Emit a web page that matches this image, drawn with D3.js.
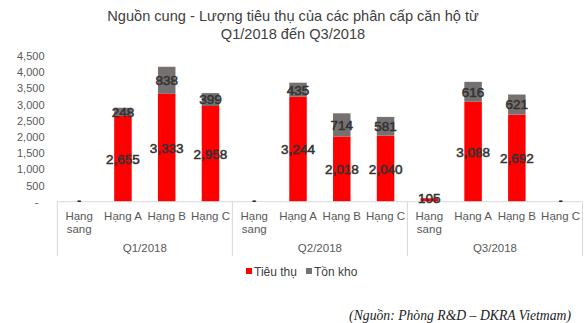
<!DOCTYPE html>
<html><head><meta charset="utf-8">
<script src="https://cdn.jsdelivr.net/npm/d3@7"></script>
<style>body{margin:0;background:#fff}svg{display:block;font-family:"Liberation Sans",Arial,sans-serif}</style>
</head><body><svg id="c" width="586" height="323"></svg>
<script>
const quarters = ["Q1/2018", "Q2/2018", "Q3/2018"];
const grades = ["Hạng sang", "Hạng A", "Hạng B", "Hạng C"];
const soldValues = [0, 2655, 3333, 2958, 0, 3244, 2018, 2040, 105, 3088, 2692, 0];
const stockValues = [0, 248, 838, 399, 0, 435, 714, 581, 0, 616, 621, 0];
const yTicks = [0, 500, 1000, 1500, 2000, 2500, 3000, 3500, 4000, 4500];
const seriesNames = ["Tiêu thụ", "Tồn kho"];
const colors = ["#ff0000", "#767171"];

(function () {
const svg = d3.select("#c");
const pLeft = 57.3, pRight = 582.5, pTop = 56.1, pBase = 201.7;
const keys = [];
quarters.forEach((q, qi) => grades.forEach((g, gi) => keys.push(qi + "|" + gi)));
const data = keys.map((k, i) => ({key: k, q: +k.split("|")[0], g: +k.split("|")[1], sold: soldValues[i], stock: stockValues[i]}));

const x = d3.scaleBand().domain(keys).range([pLeft, pRight]).paddingInner(0.6).paddingOuter(0.3);
const y = d3.scaleLinear().domain([0, 4500]).range([pBase, pTop]);
const qx = d3.scaleBand().domain(quarters).range([pLeft, pRight]);

// title
svg.append("text").attr("x", 293).attr("y", 21).attr("text-anchor", "middle").attr("fill", "#404040").attr("font-size", 14.6)
  .text("Nguồn cung - Lượng tiêu thụ của các phân cấp căn hộ từ");
svg.append("text").attr("x", 293).attr("y", 38.5).attr("text-anchor", "middle").attr("fill", "#404040").attr("font-size", 14.6)
  .text("Q1/2018 đến Q3/2018");

// y axis labels
const yAxis = d3.axisLeft(y).tickValues(yTicks).tickSize(0).tickPadding(0).tickFormat(d => d === 0 ? "-" : d3.format(",")(d));
const ya = svg.append("g").attr("transform", "translate(44.5,0)").call(yAxis);
ya.select(".domain").remove();
ya.selectAll("text").attr("fill", "#595959").attr("font-size", 11).attr("font-family", "Liberation Sans, Arial, sans-serif")
  .attr("dx", d => d === 0 ? -6 : 0);

// bars
const stack = d3.stack().keys(["sold", "stock"])(data);
stack.forEach((s, si) => {
  svg.append("g").selectAll("rect").data(s).join("rect")
    .attr("x", d => x(d.data.key)).attr("width", x.bandwidth())
    .attr("y", d => y(d[1])).attr("height", d => y(d[0]) - y(d[1]))
    .attr("fill", colors[si]);
});

// x axis baseline & separators
svg.append("line").attr("x1", pLeft).attr("x2", pRight).attr("y1", pBase).attr("y2", pBase).attr("stroke", "#d9d9d9");
[pLeft, ...quarters.map(q => qx(q) + qx.bandwidth())].forEach(v => {
  svg.append("line").attr("x1", v).attr("x2", v).attr("y1", pBase).attr("y2", 256).attr("stroke", "#d9d9d9");
});

// labels
stack.forEach((s, si) => {
  s.forEach(d => {
    const v = d[1] - d[0];
    const cx = x(d.data.key) + x.bandwidth() / 2;
    if (v === 0) {
      if (si === 0 && d.data.stock === 0) {
        svg.append("text").attr("x", cx).attr("y", pBase + 3).attr("text-anchor", "middle")
          .attr("font-size", 13).attr("font-weight", "bold").attr("fill", "#262626").text("-");
      }
      return;
    }
    svg.append("text").attr("x", cx).attr("y", (y(d[0]) + y(d[1])) / 2 - (v < 300 && si === 0 ? 2 : 0)).attr("dy", "0.36em").attr("text-anchor", "middle")
      .attr("font-size", 13.5).attr("fill", "#333333").attr("stroke", "#333333").attr("stroke-width", 0.55).text(d3.format(",")(v));
  });
});

// category labels
data.forEach(d => {
  const cx = x(d.key) + x.bandwidth() / 2;
  const name = grades[d.g];
  const t = svg.append("text").attr("text-anchor", "middle").attr("fill", "#595959").attr("font-size", 11.5);
  if (name === "Hạng sang") {
    t.append("tspan").attr("x", cx).attr("y", 219.5).text("Hạng");
    t.append("tspan").attr("x", cx).attr("y", 233).text("sang");
  } else {
    t.attr("x", cx).attr("y", 219.5).text(name);
  }
});
quarters.forEach(q => {
  svg.append("text").attr("x", qx(q) + qx.bandwidth() / 2).attr("y", 252).attr("text-anchor", "middle")
    .attr("fill", "#595959").attr("font-size", 11.5).text(q);
});

// legend
const lg = [[246, 0], [306, 1]];
lg.forEach(([lx, i]) => {
  svg.append("rect").attr("x", lx).attr("y", 268).attr("width", 6).attr("height", 6).attr("fill", colors[i]);
  svg.append("text").attr("x", lx + 8).attr("y", 275.5).attr("fill", "#404040").attr("font-size", 12).text(seriesNames[i]);
});

// source
svg.append("text").attr("x", 571).attr("y", 320).attr("text-anchor", "end")
  .attr("font-family", "Liberation Serif, Times New Roman, serif").attr("font-style", "italic").attr("font-size", 13.7)
  .attr("fill", "#222").text("(Nguồn: Phòng R&D – DKRA Vietmam)");
})();
</script></body></html>
